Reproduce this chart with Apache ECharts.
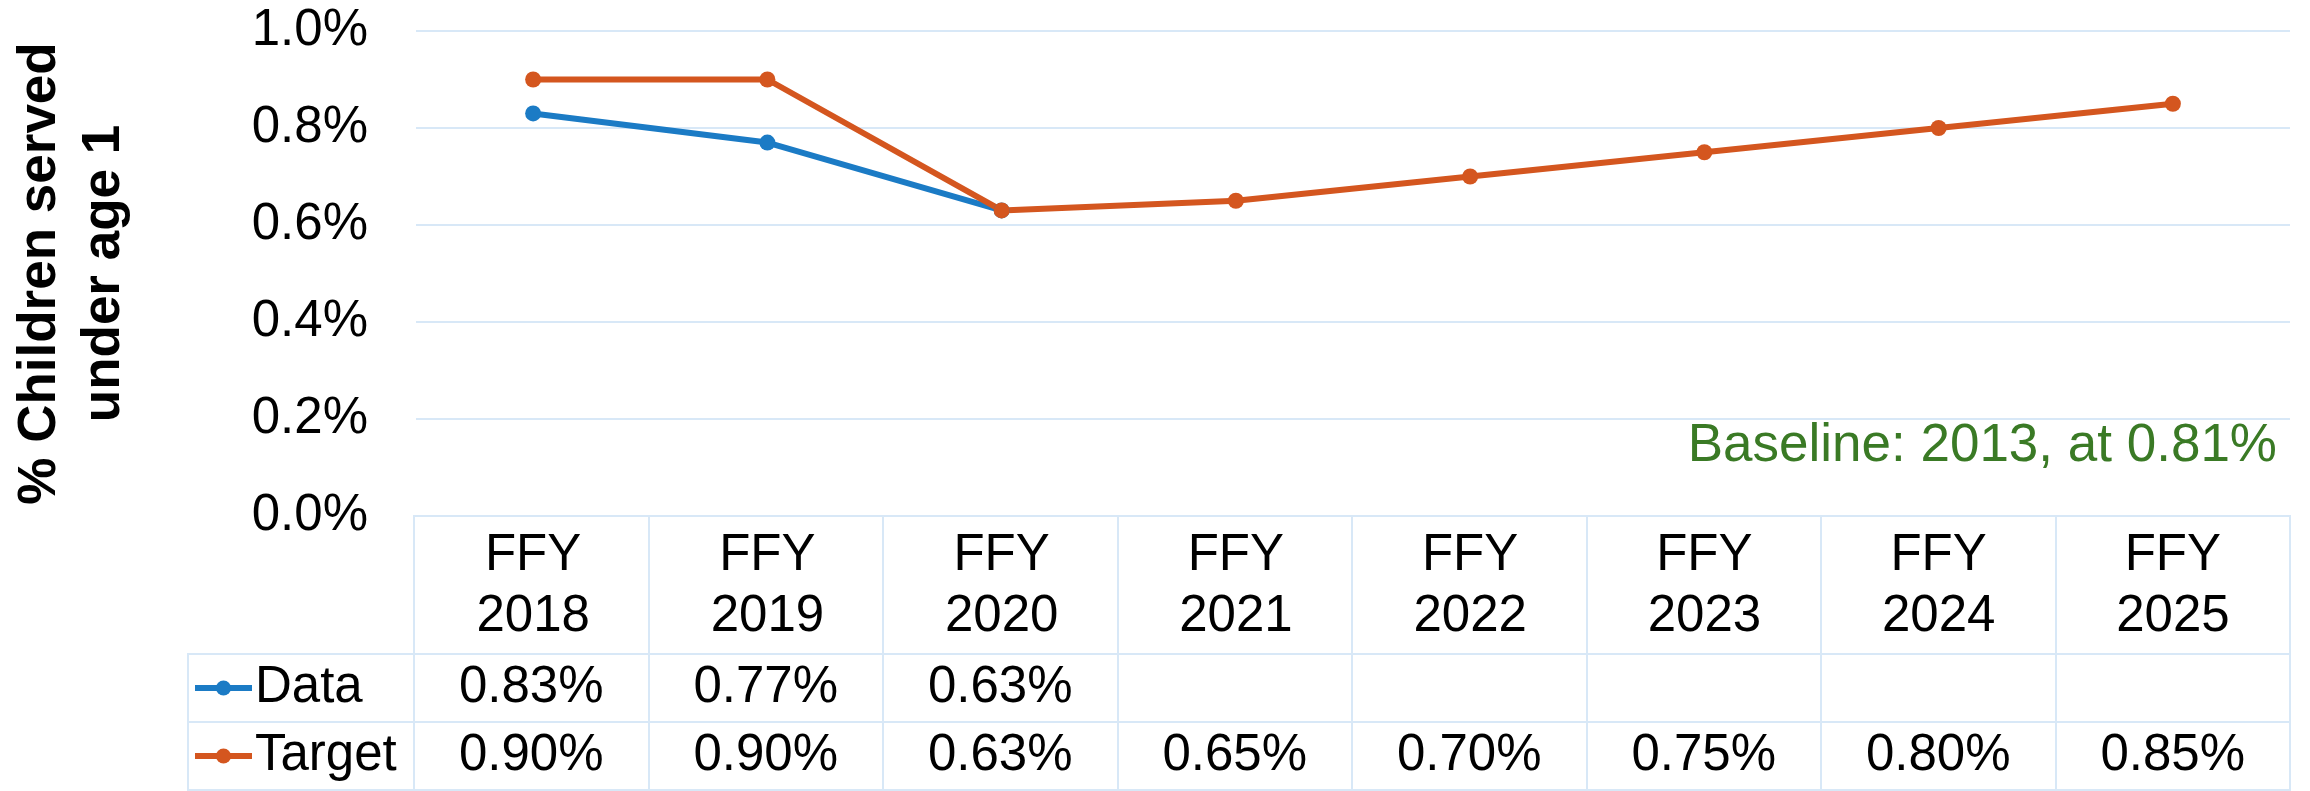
<!DOCTYPE html>
<html>
<head>
<meta charset="utf-8">
<script src="https://cdn.jsdelivr.net/npm/echarts@6/dist/echarts.min.js"></script>
<style>
  html, body { margin: 0; padding: 0; background: #fff; }
  #chart { width: 2310px; height: 791px; }
</style>
</head>
<body>
<div id="chart"></div>
<script>
// 数据
const fiscalYears = ['2018', '2019', '2020', '2021', '2022', '2023', '2024', '2025'];
const dataValues = [0.83, 0.77, 0.63, null, null, null, null, null];
const targetValues = [0.90, 0.90, 0.63, 0.65, 0.70, 0.75, 0.80, 0.85];
const yTicks = [0, 0.2, 0.4, 0.6, 0.8, 1.0];
const rowNames = ['Target', 'Data'];

const FONT = "'Liberation Sans', Arial, sans-serif";
const BLUE = '#1b7bc5';
const ORANGE = '#d4561f';
const GRID_COLOR = '#d8e8f7';

const categories = fiscalYears.map(y => 'FFY\n' + y);

// 表格里的数值
const tableCell = (row, values) => values.map((v, i) => v == null ? null : [i, row, v]);

const cellLabel = {
  show: true, position: 'inside', fontSize: 51, color: '#000', opacity: 1, fontFamily: FONT,
  formatter: p => p.value[2].toFixed(2) + '%'
};

const myChart = echarts.init(document.getElementById('chart'));
const options = {
  animation: false,
  textStyle: { fontFamily: FONT },
  title: {
    text: 'Baseline: 2013, at 0.81%',
    right: 28,
    top: 411,
    textStyle: { color: '#3a7a25', fontSize: 53, fontWeight: 'normal', fontFamily: FONT, lineHeight: 60 }
  },
  legend: {
    data: ['Data', 'Target'],
    orient: 'vertical',
    left: 192,
    top: 659,
    padding: 0,
    height: 140,
    itemWidth: 57,
    itemHeight: 19,
    itemGap: 10,
    lineStyle: { width: 6 },
    textStyle: { fontSize: 51, color: '#000', lineHeight: 58, fontFamily: FONT, padding: [0, 0, 0, -2] }
  },
  grid: [
    // 折线区域
    { left: 414, right: 20, top: 31, bottom: 275 },
    // 表头
    { left: 414, right: 20, top: 516, height: 138, show: true, borderColor: GRID_COLOR, borderWidth: 2 },
    // 表格数值
    { left: 414, right: 20, top: 654, bottom: 1, show: true, borderColor: GRID_COLOR, borderWidth: 2 },
    // 图例列
    { left: 188, width: 226, top: 654, bottom: 1, show: true, borderColor: GRID_COLOR, borderWidth: 2 }
  ],
  xAxis: [
    {
      gridIndex: 0, type: 'category', data: categories,
      axisLine: { show: false }, axisTick: { show: false },
      axisLabel: { margin: 9, fontSize: 51, lineHeight: 61, color: '#000', fontFamily: FONT, interval: 0 }
    },
    {
      gridIndex: 1, type: 'category', data: categories,
      axisLine: { show: false }, axisTick: { show: false }, axisLabel: { show: false },
      splitLine: { show: true, interval: 0, lineStyle: { color: GRID_COLOR, width: 2 } }
    },
    {
      gridIndex: 2, type: 'category', data: categories,
      axisLine: { show: false }, axisTick: { show: false }, axisLabel: { show: false },
      splitLine: { show: true, interval: 0, lineStyle: { color: GRID_COLOR, width: 2 } }
    },
    { gridIndex: 3, type: 'value', show: false }
  ],
  yAxis: [
    {
      gridIndex: 0, type: 'value', min: 0, max: 1.0, interval: 0.2,
      name: '% Children served\nunder age 1',
      nameLocation: 'middle', nameRotate: 90, nameGap: 280,
      nameTextStyle: { fontSize: 53, fontWeight: 'bold', color: '#000', lineHeight: 64, fontFamily: FONT },
      axisLine: { show: false }, axisTick: { show: false },
      axisLabel: {
        margin: 48, fontSize: 51, color: '#000', fontFamily: FONT,
        formatter: v => yTicks.some(t => Math.abs(t - v) < 1e-9) ? v.toFixed(1) + '%' : ''
      },
      splitLine: { lineStyle: { color: GRID_COLOR, width: 2 } }
    },
    { gridIndex: 1, type: 'value', show: false },
    {
      gridIndex: 2, type: 'category', data: rowNames,
      axisLine: { show: false }, axisTick: { show: false }, axisLabel: { show: false },
      splitLine: { show: true, interval: 0, lineStyle: { color: GRID_COLOR, width: 2 } }
    },
    {
      gridIndex: 3, type: 'category', data: rowNames,
      axisLine: { show: false }, axisTick: { show: false }, axisLabel: { show: false },
      splitLine: { show: true, interval: 0, lineStyle: { color: GRID_COLOR, width: 2 } }
    }
  ],
  series: [
    {
      name: 'Data', type: 'line', xAxisIndex: 0, yAxisIndex: 0,
      data: dataValues, color: BLUE,
      symbol: 'circle', symbolSize: 16,
      lineStyle: { width: 6, color: BLUE }, itemStyle: { color: BLUE }
    },
    {
      name: 'Target', type: 'line', xAxisIndex: 0, yAxisIndex: 0,
      data: targetValues, color: ORANGE,
      symbol: 'circle', symbolSize: 16,
      lineStyle: { width: 6, color: ORANGE }, itemStyle: { color: ORANGE }
    },
    {
      name: 'Data row', type: 'scatter', xAxisIndex: 2, yAxisIndex: 2,
      data: tableCell('Data', dataValues).filter(d => d),
      symbolSize: 1, itemStyle: { color: 'rgba(0,0,0,0)', opacity: 1 },
      label: cellLabel
    },
    {
      name: 'Target row', type: 'scatter', xAxisIndex: 2, yAxisIndex: 2,
      data: tableCell('Target', targetValues).filter(d => d),
      symbolSize: 1, itemStyle: { color: 'rgba(0,0,0,0)', opacity: 1 },
      label: cellLabel
    }
  ]
};
myChart.setOption(options);
</script>
</body>
</html>
